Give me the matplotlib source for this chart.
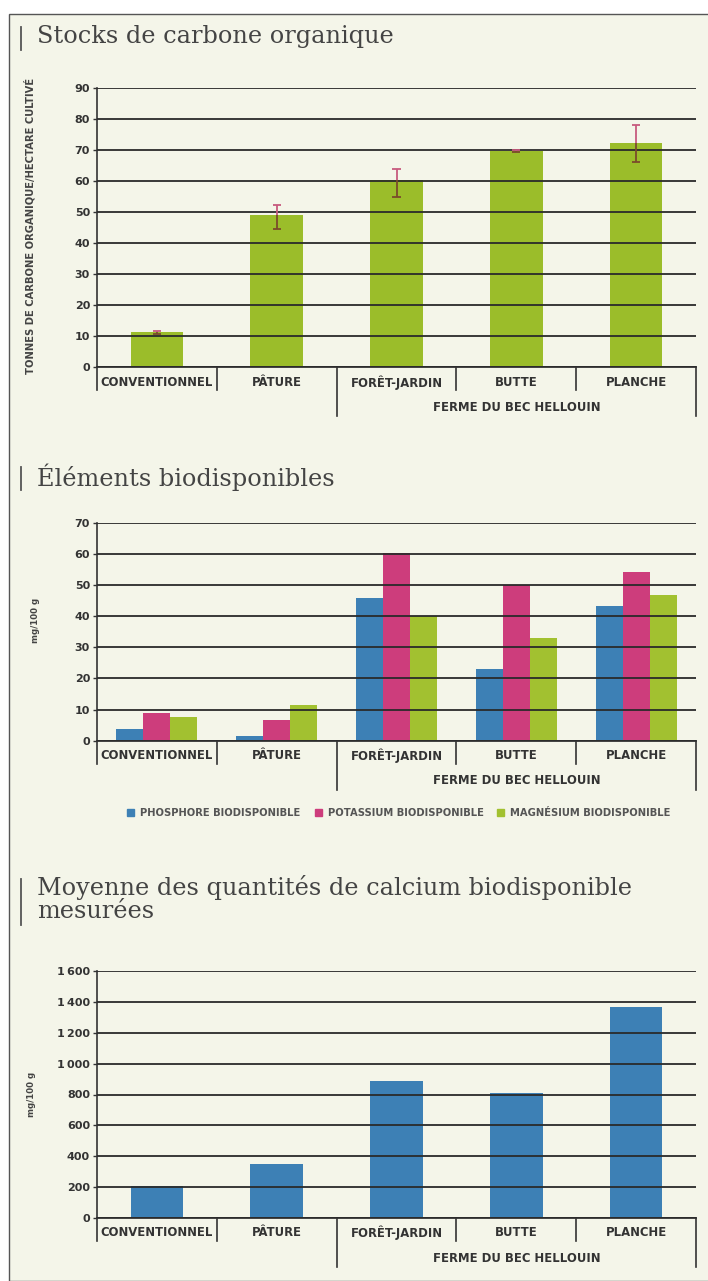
import numpy as np
import matplotlib
matplotlib.use("Agg")
import matplotlib.pyplot as plt
from matplotlib.lines import Line2D
from matplotlib.patches import Rectangle, Patch

# Données
categories = ["CONVENTIONNEL", "PÂTURE", "FORÊT-JARDIN", "BUTTE", "PLANCHE"]
groupe = "FERME DU BEC HELLOUIN"

carbone = [11.3, 49.0, 60.3, 69.8, 72.4]
carbone_err_bas = [0.6, 4.5, 5.3, 0.4, 6.2]
carbone_err_haut = [0.5, 3.5, 3.8, 0.4, 5.6]
carbone_ticks = [0, 10, 20, 30, 40, 50, 60, 70, 80, 90]

phosphore = [3.8, 1.5, 45.8, 23.0, 43.1]
potassium = [8.8, 6.6, 60.2, 50.0, 54.2]
magnesium = [7.6, 11.6, 39.9, 33.1, 46.9]
elements_labels = ["PHOSPHORE BIODISPONIBLE", "POTASSIUM BIODISPONIBLE", "MAGNÉSIUM BIODISPONIBLE"]
elements_ticks = [0, 10, 20, 30, 40, 50, 60, 70]

calcium = [205, 350, 890, 810, 1365]
calcium_ticks = [0, 200, 400, 600, 800, 1000, 1200, 1400, 1600]
calcium_tick_labels = ["0", "200", "400", "600", "800", "1\u2009000", "1\u2009200", "1\u2009400", "1\u2009600"]

W, H = 708, 1281
fond = "#f4f5e9"
encre = "#333333"
vert = "#9bbd2a"
bleu = "#3d80b5"
rose = "#cd3d7c"
vert2 = "#a2c130"


def fx(px):
    return px / W


def fy(py):
    return 1 - py / H


fig = plt.figure(figsize=(W / 100, H / 100), dpi=100)
fig.patch.set_facecolor("white")
fig.add_artist(Rectangle((fx(9), 0), 1.2, fy(14), transform=fig.transFigure,
                         facecolor=fond, edgecolor="#555555", lw=1.0, zorder=-10))


def titre(lignes, y_centres, y_barre):
    for txt, y in zip(lignes, y_centres):
        fig.text(fx(37), fy(y), txt, family="DejaVu Serif", fontsize=17.3,
                 color="#444444", va="center", ha="left")
    fig.add_artist(Line2D([fx(21), fx(21)], [fy(y_barre[0]), fy(y_barre[1])],
                          transform=fig.transFigure, color="#555555", lw=1.3))


def axes_px(top, bottom):
    return fig.add_axes([fx(97), fy(bottom), fx(696) - fx(97), (bottom - top) / H])


def habiller(ax, ticks, tick_labels, top, bottom):
    hpx = bottom - top
    ax.set_facecolor("none")
    ax.set_xlim(-0.5, 4.5)
    ax.set_ylim(ticks[0], ticks[-1])
    ax.set_yticks(ticks)
    ax.set_yticklabels(tick_labels)
    for lbl in ax.get_yticklabels():
        lbl.set_fontweight("bold")
    ax.tick_params(axis="y", length=3, width=1, color=encre, labelsize=8,
                   labelcolor=encre, pad=2)
    ax.set_xticks([])
    ax.set_axisbelow(False)
    ax.yaxis.grid(True, color="#2a2a2a", lw=1.3)
    for s in ["top", "right"]:
        ax.spines[s].set_visible(False)
    ax.spines["left"].set_color(encre)
    ax.spines["bottom"].set_color(encre)
    ax.spines["left"].set_linewidth(1.2)
    ax.spines["bottom"].set_linewidth(1.3)
    tr = ax.get_xaxis_transform()
    for b in np.arange(-0.5, 5, 1.0):
        prof = 49 if b in (1.5, 4.5) else 23
        ax.plot([b, b], [0, -prof / hpx], transform=tr, clip_on=False,
                color=encre, lw=1.2)
    for i, c in enumerate(categories):
        ax.text(i, -15 / hpx, c, transform=tr, ha="center", va="center",
                fontsize=8.4, fontweight="bold", color=encre)
    ax.text(3, -40 / hpx, groupe, transform=tr, ha="center", va="center",
            fontsize=8.4, fontweight="bold", color=encre)


x = np.arange(len(categories))

# 1. Stocks de carbone organique
titre(["Stocks de carbone organique"], [37], (27, 50))
ax1 = axes_px(88.3, 367.3)
ax1.bar(x, carbone, width=0.44, color=vert, zorder=1)
haut = np.array(carbone) + np.array(carbone_err_haut)
bas = np.array(carbone) - np.array(carbone_err_bas)
ax1.vlines(x, carbone, haut, color="#c75a7e", lw=1.3, zorder=4)
ax1.vlines(x, bas, carbone, color="#7a4b2a", lw=1.3, zorder=4)
ax1.hlines(haut, x - 0.035, x + 0.035, color="#c75a7e", lw=1.3, zorder=4)
ax1.hlines(bas, x - 0.035, x + 0.035, color="#7a4b2a", lw=1.3, zorder=4)
habiller(ax1, carbone_ticks, [str(t) for t in carbone_ticks], 88.3, 367.3)
fig.text(fx(30), fy(226), "TONNES DE CARBONE ORGANIQUE/HECTARE CULTIVÉ", rotation=90,
         ha="center", va="center", fontsize=7.2, fontweight="bold", color="#444444")

# 2. Éléments biodisponibles
titre(["Éléments biodisponibles"], [477], (467, 490))
ax2 = axes_px(522.7, 740.7)
bw = 0.225
for k, (vals, col) in enumerate(zip([phosphore, potassium, magnesium], [bleu, rose, vert2])):
    ax2.bar(x + (k - 1) * bw, vals, width=bw, color=col, zorder=1)
habiller(ax2, elements_ticks, [str(t) for t in elements_ticks], 522.7, 740.7)
fig.text(fx(35), fy(620), "mg/100 g", rotation=90, ha="center", va="center",
         fontsize=6.2, fontweight="bold", color="#444444")
poignees = [Patch(color=c) for c in [bleu, rose, vert2]]
fig.legend(poignees, elements_labels, loc="center", bbox_to_anchor=(fx(399), fy(813)),
           ncol=3, frameon=False, prop={"weight": "bold", "size": 7.2},
           labelcolor="#555555", handlelength=0.7, handleheight=0.7,
           handletextpad=0.6, columnspacing=1.4)

# 3. Calcium
titre(["Moyenne des quantités de calcium biodisponible", "mesurées"], [887, 911], (879, 925))
ax3 = axes_px(971, 1218)
ax3.bar(x, calcium, width=0.44, color=bleu, zorder=1)
habiller(ax3, calcium_ticks, calcium_tick_labels, 971, 1218)
fig.text(fx(32), fy(1094), "mg/100 g", rotation=90, ha="center", va="center",
         fontsize=6.2, fontweight="bold", color="#444444")

fig.savefig("out.png", dpi=100, facecolor=fig.get_facecolor())
